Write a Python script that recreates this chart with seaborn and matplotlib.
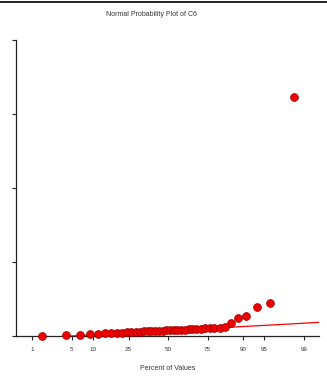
from statistics import NormalDist

import matplotlib.pyplot as plt
import numpy as np
import seaborn as sns
from matplotlib.lines import Line2D

sns.set_theme(style="white")
plt.rcParams["font.family"] = ["Liberation Sans", "DejaVu Sans"]

# sorted sample values of C6 (arbitrary units)
c6_values = [0.4, 1.0, 2.0, 2.7, 3.1, 3.6, 4.0, 4.3, 4.7, 5.0,
             5.3, 5.6, 5.8, 6.1, 6.3, 6.5, 6.8, 7.0, 7.2, 7.5,
             7.8, 8.0, 8.2, 8.4, 8.6, 8.8, 9.0, 9.3, 10.0, 10.3,
             10.6, 10.8, 11.2, 11.8, 17.2, 24.3, 27.0, 38.8, 45.0, 323.0]
pct_ticks = [1, 5, 10, 25, 50, 75, 90, 95, 99]
fit_intercept = 7.2
fit_slope = 4.35

nd = NormalDist()
n = len(c6_values)
z = [nd.inv_cdf((i + 1 - 0.375) / (n + 0.25)) for i in range(n)]
tick_z = [nd.inv_cdf(p / 100) for p in pct_ticks]

fig = plt.figure(figsize=(3.27, 3.81), dpi=100)
ax = fig.add_axes([16 / 327, 45 / 381, 303 / 327, 296 / 381])

line_x = np.array([-2.6, 2.58])
sns.lineplot(x=line_x, y=fit_intercept + fit_slope * line_x, color="#ff0000",
             linewidth=0.9, ax=ax)
sns.scatterplot(x=z, y=c6_values, color="#ee0000", edgecolor="#990000",
                linewidth=0.5, s=32, ax=ax, clip_on=False, zorder=3)

ax.set_xlim(-2.6, 2.58)
ax.set_ylim(0, 400)
ax.set_xticks(tick_z)
ax.set_xticklabels([str(p) for p in pct_ticks])
ax.set_yticks([0, 100, 200, 300, 400])
ax.set_yticklabels([])
ax.tick_params(axis="both", direction="out", length=3, width=0.8,
               color="#222222", labelsize=4.5, labelcolor="#333333", pad=5,
               left=True, bottom=True)
for side in ["top", "right"]:
    ax.spines[side].set_visible(False)
for side in ["left", "bottom"]:
    ax.spines[side].set_color("#222222")
    ax.spines[side].set_linewidth(0.9)

ax.set_xlabel("Percent of Values", fontsize=5, color="#333333", labelpad=9)
ax.set_ylabel("")
fig.text(151 / 327, 1 - 14.5 / 381, "Normal Probability Plot of C6",
         ha="center", va="center", fontsize=5, color="#333333")
fig.add_artist(Line2D([0, 1], [1 - 1.5 / 381, 1 - 1.5 / 381],
                      color="black", linewidth=1.2))

fig.savefig("out.png", dpi=100)
